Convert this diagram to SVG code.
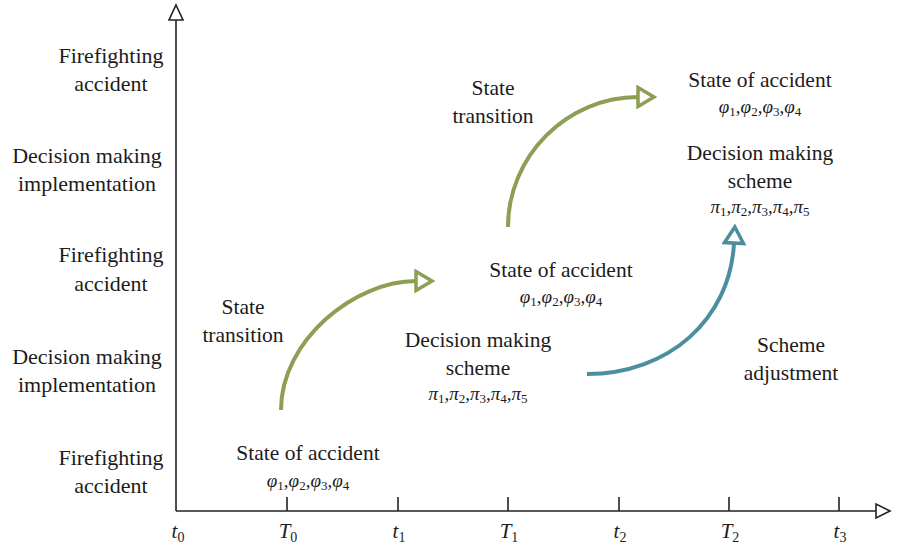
<svg xmlns="http://www.w3.org/2000/svg" width="898" height="545" viewBox="0 0 898 545">
<style>
  .t { font-family: "Liberation Serif", "Times New Roman", serif; font-size: 21.5px; fill: #1c1c1c; text-anchor: middle; }
  .lbl { font-family: "Liberation Serif", "Times New Roman", serif; font-size: 22px; fill: #1c1c1c; text-anchor: middle; }
  .sym { font-family: "Liberation Serif", "Times New Roman", serif; font-size: 19px; fill: #1c1c1c; text-anchor: middle; }
  .sym .g { font-style: italic; }
  .sym .s { font-size: 13px; }
  .tick { font-family: "Liberation Serif", "Times New Roman", serif; font-size: 21px; fill: #1c1c1c; text-anchor: middle; }
  .tick .v { font-style: italic; }
  .tick .s { font-size: 14px; }
  .axis { stroke: #222; stroke-width: 1.6; fill: none; }
  .head { stroke: #222; stroke-width: 1.6; fill: #fff; }
  .green { stroke: #8c9f55; stroke-width: 4; fill: none; }
  .teal { stroke: #4b8e9e; stroke-width: 4; fill: none; }
</style>
<defs>
  <marker id="mg" markerUnits="userSpaceOnUse" viewBox="0 0 22 24" refX="3" refY="12" markerWidth="22" markerHeight="24" orient="auto">
    <path d="M3,2.5 L19,12 L3,21.5 Z" fill="#fff" stroke="#8c9f55" stroke-width="3.5" stroke-linejoin="miter"/>
  </marker>
  <marker id="mt" markerUnits="userSpaceOnUse" viewBox="0 0 22 24" refX="3" refY="12" markerWidth="22" markerHeight="24" orient="auto">
    <path d="M3,2.5 L19,12 L3,21.5 Z" fill="#fff" stroke="#4b8e9e" stroke-width="3.5" stroke-linejoin="miter"/>
  </marker>
</defs>
<rect width="898" height="545" fill="#fff"/>

<g id="axes">
  <line class="axis" x1="176" y1="20" x2="176" y2="511"/>
  <line class="axis" x1="176" y1="511" x2="876" y2="511"/>
  <polygon class="head" points="176,5 183,20 169,20"/>
  <polygon class="head" points="890,511 876,504 876,518"/>
  <g class="axis">
    <line x1="287" y1="497" x2="287" y2="511"/>
    <line x1="398" y1="497" x2="398" y2="511"/>
    <line x1="508" y1="497" x2="508" y2="511"/>
    <line x1="619" y1="497" x2="619" y2="511"/>
    <line x1="729" y1="497" x2="729" y2="511"/>
    <line x1="839" y1="497" x2="839" y2="511"/>
  </g>
  <text class="tick" x="178" y="538"><tspan class="v">t</tspan><tspan class="s" dy="4">0</tspan></text>
  <text class="tick" x="288" y="538"><tspan class="v">T</tspan><tspan class="s" dy="4">0</tspan></text>
  <text class="tick" x="399" y="538"><tspan class="v">t</tspan><tspan class="s" dy="4">1</tspan></text>
  <text class="tick" x="509" y="538"><tspan class="v">T</tspan><tspan class="s" dy="4">1</tspan></text>
  <text class="tick" x="620" y="538"><tspan class="v">t</tspan><tspan class="s" dy="4">2</tspan></text>
  <text class="tick" x="730" y="538"><tspan class="v">T</tspan><tspan class="s" dy="4">2</tspan></text>
  <text class="tick" x="840" y="538"><tspan class="v">t</tspan><tspan class="s" dy="4">3</tspan></text>
</g>

<g id="level-labels">
  <text class="lbl" x="111" y="63">Firefighting</text>
  <text class="lbl" x="111" y="91">accident</text>
  <text class="lbl" x="87" y="163">Decision making</text>
  <text class="lbl" x="87" y="191">implementation</text>
  <text class="lbl" x="111" y="262">Firefighting</text>
  <text class="lbl" x="111" y="291">accident</text>
  <text class="lbl" x="87" y="364">Decision making</text>
  <text class="lbl" x="87" y="392">implementation</text>
  <text class="lbl" x="111" y="465">Firefighting</text>
  <text class="lbl" x="111" y="493">accident</text>
</g>

<g id="state0">
  <text class="t" x="308" y="460">State of accident</text>
  <text class="sym" x="308" y="487"><tspan class="g">φ</tspan><tspan class="s" dy="3">1</tspan><tspan dy="-3">,</tspan><tspan class="g">φ</tspan><tspan class="s" dy="3">2</tspan><tspan dy="-3">,</tspan><tspan class="g">φ</tspan><tspan class="s" dy="3">3</tspan><tspan dy="-3">,</tspan><tspan class="g">φ</tspan><tspan class="s" dy="3">4</tspan></text>
</g>

<g id="transition1-label">
  <text class="t" x="243" y="314">State</text>
  <text class="t" x="243" y="342">transition</text>
</g>

<g id="state1">
  <text class="t" x="561" y="277">State of accident</text>
  <text class="sym" x="561" y="303"><tspan class="g">φ</tspan><tspan class="s" dy="3">1</tspan><tspan dy="-3">,</tspan><tspan class="g">φ</tspan><tspan class="s" dy="3">2</tspan><tspan dy="-3">,</tspan><tspan class="g">φ</tspan><tspan class="s" dy="3">3</tspan><tspan dy="-3">,</tspan><tspan class="g">φ</tspan><tspan class="s" dy="3">4</tspan></text>
</g>

<g id="scheme1">
  <text class="t" x="478" y="347">Decision making</text>
  <text class="t" x="478" y="375">scheme</text>
  <text class="sym" x="478" y="400"><tspan class="g">π</tspan><tspan class="s" dy="3">1</tspan><tspan dy="-3">,</tspan><tspan class="g">π</tspan><tspan class="s" dy="3">2</tspan><tspan dy="-3">,</tspan><tspan class="g">π</tspan><tspan class="s" dy="3">3</tspan><tspan dy="-3">,</tspan><tspan class="g">π</tspan><tspan class="s" dy="3">4</tspan><tspan dy="-3">,</tspan><tspan class="g">π</tspan><tspan class="s" dy="3">5</tspan></text>
</g>

<g id="transition2-label">
  <text class="t" x="493" y="95">State</text>
  <text class="t" x="493" y="123">transition</text>
</g>

<g id="state2">
  <text class="t" x="760" y="87">State of accident</text>
  <text class="sym" x="760" y="113"><tspan class="g">φ</tspan><tspan class="s" dy="3">1</tspan><tspan dy="-3">,</tspan><tspan class="g">φ</tspan><tspan class="s" dy="3">2</tspan><tspan dy="-3">,</tspan><tspan class="g">φ</tspan><tspan class="s" dy="3">3</tspan><tspan dy="-3">,</tspan><tspan class="g">φ</tspan><tspan class="s" dy="3">4</tspan></text>
</g>

<g id="scheme2">
  <text class="t" x="760" y="160">Decision making</text>
  <text class="t" x="760" y="188">scheme</text>
  <text class="sym" x="760" y="213"><tspan class="g">π</tspan><tspan class="s" dy="3">1</tspan><tspan dy="-3">,</tspan><tspan class="g">π</tspan><tspan class="s" dy="3">2</tspan><tspan dy="-3">,</tspan><tspan class="g">π</tspan><tspan class="s" dy="3">3</tspan><tspan dy="-3">,</tspan><tspan class="g">π</tspan><tspan class="s" dy="3">4</tspan><tspan dy="-3">,</tspan><tspan class="g">π</tspan><tspan class="s" dy="3">5</tspan></text>
</g>

<g id="adjustment-label">
  <text class="t" x="791" y="352">Scheme</text>
  <text class="t" x="791" y="380">adjustment</text>
</g>

<g id="connectors">
  <path class="green" d="M281,410 C281,340 355,281 416,281" marker-end="url(#mg)"/>
  <path class="green" d="M508,227 C508,156 567,97 638,97" marker-end="url(#mg)"/>
  <path class="teal" d="M587,374 C668,374 730,320 734,243" marker-end="url(#mt)"/>
</g>
</svg>
